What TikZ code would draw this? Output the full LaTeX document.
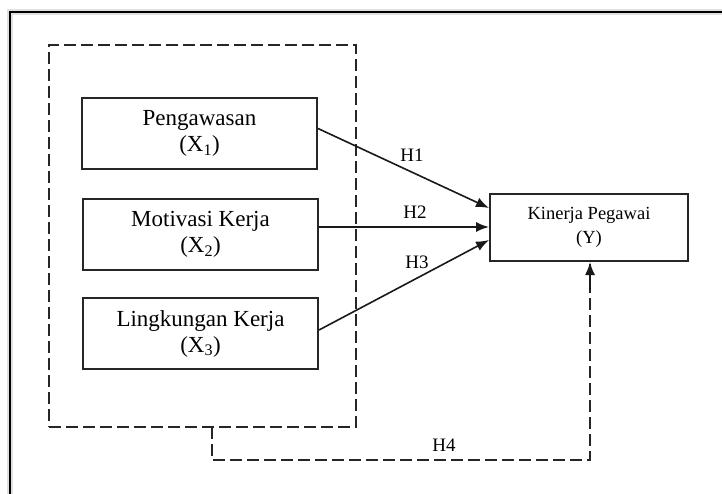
\documentclass[tikz,border=0pt]{standalone}
\usepackage{fontspec}
\setmainfont{Liberation Serif}
\usetikzlibrary{arrows.meta,calc}
\begin{document}
\begin{tikzpicture}[x=1pt,y=1pt,
  varbox/.style={draw=black!85,line width=2pt,minimum width=235pt,minimum height=71pt,align=center,font=\fontsize{23}{26}\selectfont,inner sep=0pt},
  ybox/.style={draw=black!85,line width=2pt,minimum width=198pt,minimum height=67pt,align=center,font=\fontsize{18.5}{24}\selectfont,inner sep=0pt},
  dashbox/.style={draw=black!85,line width=1.5pt,dash pattern=on 12pt off 5pt},
  link/.style={draw=black!90,line width=1.6pt,-{Latex[length=13pt,width=10pt]}},
  hlabel/.style={font=\fontsize{19}{21}\selectfont,inner sep=0pt}
]
\useasboundingbox (0,0) rectangle (722,-493);
% outer frame (cropped on right and bottom)
\draw[line width=6pt,black!12] (10,-500) -- (10,-12) -- (730,-12);
\draw[line width=2pt,black] (10,-500) -- (10,-12) -- (730,-12);
% dashed group
\node[dashbox,minimum width=307pt,minimum height=382pt,inner sep=0pt] (G) at (202.5,-236) {};
% variables
\node[varbox] (P) at (199.5,-133.5) {Pengawasan\\(X\textsubscript{1})};
\node[varbox] (M) at (200.5,-234.5) {Motivasi Kerja\\(X\textsubscript{2})};
\node[varbox] (L) at (200.5,-333.5) {Lingkungan Kerja\\(X\textsubscript{3})};
\node[ybox] (K) at (589,-227.5) {Kinerja Pegawai\\(Y)};
% arrows
\draw[link] ([yshift=5pt]P.east) -- ([yshift=19.5pt]K.west);
\draw[link] ([yshift=7.5pt]M.east) -- ([yshift=0.5pt]K.west);
\draw[link] ([yshift=3.5pt]L.east) -- ([yshift=-12.5pt]K.west);
\node[hlabel] (h1) at (412,-155) {H1};
\node[hlabel] (h2) at (415,-212) {H2};
\node[hlabel] (h3) at (417,-262) {H3};
% H4
\coordinate (g4) at (212,-427);
\coordinate (c1) at (212,-460);
\coordinate (c2) at (590,-460);
\draw[dashbox] (g4) -- (c1) -- (c2) -- (c2 |- K.south);
\draw[link] (590,-290) -- (c2 |- K.south);
\node[hlabel] (h4) at (444,-445) {H4};
\end{tikzpicture}
\end{document}
